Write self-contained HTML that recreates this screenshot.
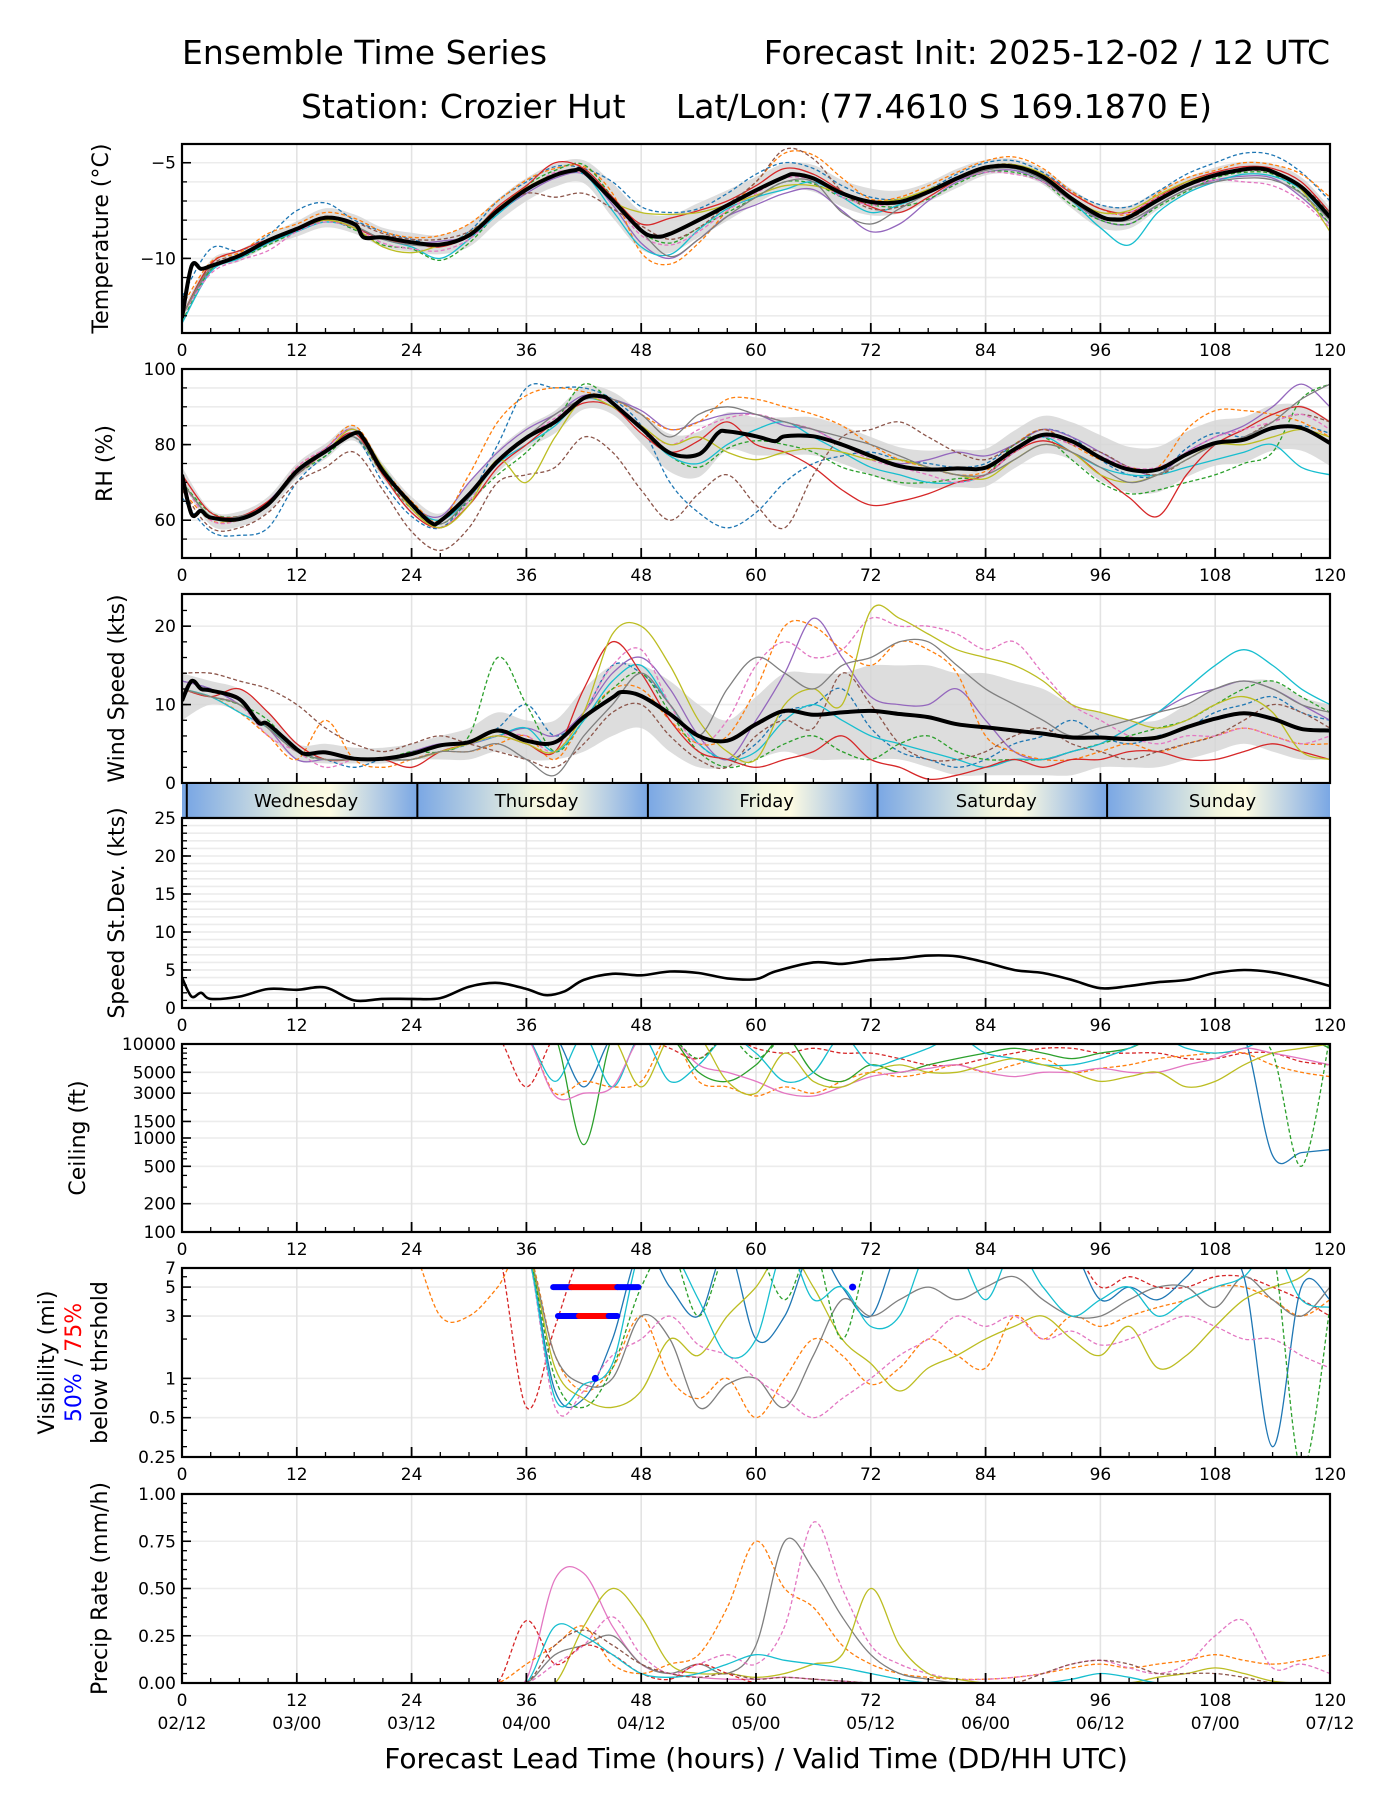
<!DOCTYPE html>
<html><head><meta charset="utf-8"><style>
html,body{margin:0;padding:0;background:#fff;}
svg{display:block;font-family:"DejaVu Sans","Liberation Sans",sans-serif;}
</style></head><body>
<svg id="chart" xmlns="http://www.w3.org/2000/svg" width="1400" height="1800" viewBox="0 0 1400 1800">
<defs>
<linearGradient id="dayGrad" x1="0" x2="1" y1="0" y2="0">
<stop offset="0" stop-color="#7aa7e4"/><stop offset="0.5" stop-color="#f3f6df"/><stop offset="0.62" stop-color="#fdfbe3"/><stop offset="1" stop-color="#7aa7e4"/>
</linearGradient>
</defs>
<text x="182" y="64" font-size="33">Ensemble Time Series</text>
<text x="1330" y="64" font-size="33" text-anchor="end">Forecast Init: 2025-12-02 / 12 UTC</text>
<text x="301" y="118" font-size="33">Station: Crozier Hut</text>
<text x="1212" y="118" font-size="33" text-anchor="end">Lat/Lon: (77.4610 S 169.1870 E)</text>
<text x="756" y="1768" font-size="28" text-anchor="middle">Forecast Lead Time (hours) / Valid Time (DD/HH UTC)</text>
</svg>
<script>
// ---------- data ----------
const memberHours = [0,3,6,9,12,15,18,21,24,27,30,33,36,39,42,45,48,51,54,57,60,63,66,69,72,75,78,81,84,87,90,93,96,99,102,105,108,111,114,117,120];
const memberColors = ['#1f77b4','#9467bd','#ff7f0e','#2ca02c','#17becf','#d62728','#8c564b','#e377c2','#bcbd22','#7f7f7f'];
const memberDashed = [true,false,true,true,false,false,true,true,false,false];

const tempMeanHours = [0,1,2,3,6,9,12,15,18,19,21,24,27,30,33,36,39,41,42,45,48,49.5,51,54,57,60,63,64,66,69,72,75,78,81,84,87,90,93,96,97.5,99,102,105,108,111,112.5,114,117,120];
const tempMean = [-13.1,-10.4,-10.55,-10.4,-9.86,-9.07,-8.46,-7.88,-8.2,-8.9,-8.9,-9.16,-9.28,-8.8,-7.5,-6.4,-5.65,-5.4,-5.47,-6.96,-8.54,-8.86,-8.72,-8.0,-7.23,-6.44,-5.74,-5.6,-5.82,-6.6,-7.05,-7.05,-6.53,-5.82,-5.25,-5.2,-5.74,-6.88,-7.8,-7.96,-7.84,-6.96,-6.18,-5.65,-5.35,-5.3,-5.47,-6.26,-7.84];
const tempSpread = [0.3,0.3,0.3,0.3,0.4,0.5,0.5,0.5,0.5,0.5,0.6,0.6,0.6,0.6,0.6,0.9,1.0,1.0,0.9,0.8,0.7,0.7,0.7,0.7,0.7,0.6,0.5,0.5,0.4,0.4,0.4,0.5,0.6,0.6,0.5,0.4,0.4,0.4,0.4,0.5,0.5];
const tempMembers = [
[-12,-9.5,-9.6,-8.8,-7.5,-7.1,-8.0,-8.6,-9.0,-9.3,-8.6,-7.0,-6.0,-5.2,-5.3,-6.0,-7.3,-7.6,-7.4,-6.6,-5.6,-5.0,-5.3,-6.2,-6.8,-6.9,-6.4,-5.6,-5.0,-4.9,-5.5,-6.5,-7.2,-7.3,-6.5,-5.6,-5.0,-4.5,-4.6,-5.5,-7.0],
[-13,-10.6,-10.0,-9.2,-8.6,-8.0,-8.4,-9.0,-9.2,-9.1,-8.8,-7.6,-6.6,-5.8,-5.6,-7.2,-9.2,-10.0,-9.0,-7.8,-7.2,-6.6,-6.4,-7.5,-8.6,-8.2,-7.0,-6.0,-5.5,-5.4,-6.0,-7.0,-8.0,-8.2,-7.2,-6.4,-5.9,-5.7,-5.8,-6.8,-8.2],
[-12.5,-10.2,-9.7,-8.7,-8.2,-7.6,-7.9,-8.6,-8.9,-8.8,-8.2,-7.0,-5.9,-5.3,-5.2,-6.6,-9.7,-10.3,-9.2,-7.5,-6.0,-4.5,-4.6,-5.8,-6.9,-6.8,-6.2,-5.5,-4.9,-4.7,-5.3,-6.5,-7.4,-7.7,-6.6,-5.8,-5.4,-5.0,-5.1,-5.6,-6.8],
[-13.3,-10.6,-10.0,-9.3,-8.6,-8.0,-8.5,-9.3,-9.5,-10.1,-9.2,-7.6,-6.2,-5.4,-5.1,-6.8,-8.6,-9.2,-8.4,-7.6,-6.8,-6.0,-6.1,-6.8,-7.2,-7.3,-6.9,-6.1,-5.5,-5.5,-6.0,-7.2,-8.0,-8.2,-7.3,-6.5,-5.8,-5.5,-5.6,-6.6,-8.2],
[-13.4,-10.7,-10.0,-9.2,-8.6,-8.1,-8.4,-9.0,-9.4,-10.0,-9.0,-7.7,-6.5,-5.7,-5.6,-7.5,-9.4,-9.8,-8.5,-7.4,-6.8,-6.4,-6.0,-6.8,-7.6,-7.2,-6.6,-5.9,-5.3,-5.3,-5.9,-7.0,-8.4,-9.3,-7.6,-6.6,-6.0,-5.6,-5.7,-6.4,-8.0],
[-13,-10.3,-9.6,-9.0,-8.5,-8.0,-8.4,-9.0,-9.2,-9.4,-8.8,-7.3,-6.2,-5.0,-5.3,-6.8,-8.2,-7.9,-7.5,-7.0,-6.2,-5.3,-5.6,-6.5,-7.3,-7.6,-6.8,-5.9,-5.3,-5.2,-5.6,-6.6,-7.4,-7.6,-6.8,-6.0,-5.5,-5.2,-5.3,-6.0,-7.6],
[-13,-10.4,-9.8,-9.0,-8.4,-7.8,-8.1,-8.7,-9.0,-9.0,-8.6,-7.5,-6.6,-6.8,-6.6,-7.4,-8.3,-9.0,-8.4,-7.2,-6.0,-4.3,-4.8,-6.5,-7.4,-7.3,-6.6,-5.8,-5.2,-5.1,-5.8,-6.8,-7.8,-7.9,-7.0,-6.2,-5.6,-5.4,-5.5,-6.2,-7.6],
[-13,-10.8,-10.1,-9.6,-8.6,-8.1,-8.4,-9.2,-9.5,-9.6,-9.0,-7.6,-6.5,-5.5,-5.6,-7.0,-8.8,-9.3,-8.6,-7.5,-6.6,-5.8,-5.9,-6.8,-7.2,-7.1,-6.6,-5.9,-5.5,-5.6,-6.0,-7.0,-7.6,-7.6,-6.8,-6.2,-5.9,-6.0,-6.2,-7.0,-8.4],
[-13,-10.5,-9.9,-9.1,-8.5,-8.0,-8.4,-9.4,-9.7,-9.3,-8.7,-7.4,-6.3,-5.6,-5.5,-7.0,-7.6,-7.7,-7.6,-7.2,-6.7,-6.2,-6.2,-6.6,-7.0,-6.9,-6.4,-5.8,-5.2,-5.1,-5.6,-6.8,-7.6,-7.5,-6.7,-6.0,-5.6,-5.3,-5.4,-6.4,-8.6],
[-13,-10.5,-9.9,-9.1,-8.5,-7.9,-8.3,-9.0,-9.3,-9.3,-8.8,-7.5,-6.4,-5.6,-5.4,-7.0,-8.6,-9.9,-9.0,-7.8,-6.8,-6.0,-6.0,-7.6,-8.2,-7.4,-6.6,-5.9,-5.4,-5.3,-5.9,-7.0,-7.9,-8.0,-7.2,-6.4,-6.0,-5.8,-5.9,-6.6,-8.0]
];

const rhMeanHours = [0,1,2,3,6,9,12,15,18,19,21,24,26,27,30,33,36,39,42,44,45,48,51,54,56,57,60,62,63,66,69,72,75,78,81,84,87,90,93,96,99,102,105,108,111,114,117,120];
const rhMean = [72,61.6,62.5,60.7,60.3,64.2,73,78.2,83,81.5,73,64.2,59.4,59.8,66.8,75.6,81.8,86,92.3,92.7,91,84.4,77.8,77.4,83,83.5,82.2,80.9,82.2,82.2,80,77,74.3,73.4,73.7,73.9,78.7,82.6,80.9,76.5,73.4,73.4,77.4,80.4,81.3,84.4,84.4,80.4];
const rhSpread = [2,2,2,2,2,2,2,2,2,2,3,3,3,3,3,3,4,5,6,5,5,5,5,5,5,5,5,5,5,5,5,5,6,6,6,6,6,6,6,6,6];
const rhMembers = [
[66,57,56,58,70,77,82,70,61,58,66,80,95,95,95,92,85,70,62,58,62,70,75,77,78,76,75,74,75,80,84,82,76,72,72,79,83,82,84,85,83],
[70,61,60,65,73,79,84,73,64,61,70,78,84,88,93,92,89,84,86,88,88,85,84,80,77,75,76,78,77,80,84,82,78,74,72,78,82,85,90,96,90],
[68,60,60,64,74,79,85,74,65,60,72,86,93,95,94,92,88,84,86,92,92,90,88,85,80,76,74,72,73,80,84,80,76,74,74,84,89,89,88,86,82],
[70,62,61,64,72,77,82,72,63,59,65,72,78,86,96,91,84,77,74,79,81,80,78,74,72,70,70,71,72,80,82,76,70,67,68,70,72,75,78,92,96],
[70,61,60,64,73,78,83,74,64,60,66,75,80,85,92,90,84,77,75,80,84,86,82,78,74,72,70,70,72,78,82,78,74,72,72,74,76,78,80,74,72],
[72,62,61,65,72,78,83,72,62,58,64,74,80,86,91,90,83,78,81,86,80,78,74,68,64,65,67,70,72,78,81,78,72,66,61,72,80,84,88,90,86],
[68,58,58,62,70,74,78,68,57,52,58,70,72,74,82,78,68,60,67,72,64,58,72,82,84,86,82,78,76,80,84,80,78,74,72,76,80,82,86,88,86],
[70,60,60,64,74,79,84,73,63,58,65,76,82,87,92,91,85,80,84,87,88,86,84,80,76,74,72,70,72,78,82,80,77,74,74,78,82,84,86,88,84],
[70,61,60,64,73,78,84,74,63,58,64,76,70,82,92,90,85,80,82,78,76,78,79,78,76,76,74,72,71,76,80,78,72,70,72,76,80,80,82,84,82],
[70,61,61,64,72,78,82,73,64,59,66,76,82,88,92,92,88,82,88,90,88,86,84,82,80,77,74,72,72,76,80,78,74,70,72,76,80,82,86,92,96]
];

const windMeanHours = [0,1,2,3,6,8,9,12,13,15,18,21,24,27,30,33,36,39,42,45,46,48,51,54,57,60,63,66,69,72,75,78,81,84,87,90,93,96,99,102,105,108,111,114,117,120];
const windMean = [10.5,13,12,11.8,10.7,7.7,7.5,4.3,3.7,3.9,3.1,3.1,3.7,4.8,5.2,6.7,5.4,5.2,8.4,10.9,11.6,11.1,8.8,6.0,5.4,7.5,9.2,8.7,9.0,9.2,8.8,8.4,7.5,7.1,6.7,6.3,5.8,5.8,5.6,5.8,7.1,8.2,8.9,8.2,6.9,6.7];
const windHi = [14,13,12,9,5,5,4.5,4.5,5,6,7,9,8,8,12,15,15,13,10,8,11,14,14,14,15,15,15,14,14,13,12,10,9,8,8,10,12,13,13,11,10];
const windLo = [8,10,9,6,3,2.5,2.5,2.5,3,3,3,4,3,3,4,6,7,4,2,2,3,4,3,3,3,3,2,1,1,1,1,1,2,2,2,3,4,5,4,3,3];
const windMembers = [
[13,12,10,7,4,3,2,3,3,4,5,7,10,6,9,15,14,10,5,3,5,9,10,12,7,4,3,2,3,5,6,8,6,5,6,7,9,10,11,9,8],
[13,12,10,7,3,3,3,3,4,5,5,6,7,6,9,14,16,12,6,3,8,14,21,16,11,10,10,12,8,4,3,4,5,7,9,11,12,13,12,10,8],
[12,11,9,6,3,8,3,2,3,4,4,5,6,3,8,12,12,8,5,6,12,20,20,17,15,18,17,14,6,4,3,3,4,5,4,5,6,7,6,5,5],
[12,11,10,8,4,3,3,3,4,4,6,16,10,4,8,12,14,9,4,2,3,5,6,4,3,5,6,4,3,3,3,4,5,6,7,8,10,12,13,11,9],
[12,11,9,7,4,3,3,3,3,4,5,6,7,4,8,13,15,10,5,3,4,8,10,8,6,5,4,3,2,3,3,4,5,7,9,12,15,17,15,12,10],
[12,11,12,9,5,3,3,3,2,4,5,6,5,4,12,18,14,8,4,3,2,3,4,6,3,2,0.5,1,2,3,2,3,3,4,4,3,3,4,5,4,3],
[14,14,13,12,10,7,5,4,5,6,5,4,3,2,5,9,10,6,3,2,6,8,7,14,10,5,3,3,4,6,7,5,4,3,4,5,6,8,10,9,7],
[12,11,10,6,4,2,3,3,3,4,5,6,6,4,9,15,17,10,5,8,15,18,16,17,21,20,20,19,17,18,14,10,8,6,5,6,6,7,6,5,6],
[12,11,10,7,4,3,3,3,3,4,5,6,5,4,9,19,20,15,8,4,3,10,12,10,22,21,19,17,16,15,13,10,9,8,7,8,10,11,9,4,3],
[12,11,10,7,4,3,3,3,3,4,4,5,3,1,6,10,14,10,6,12,16,14,12,15,16,18,18,15,12,10,8,6,7,8,9,10,12,13,12,10,9]
];

const sdHours = [0,1,2,3,6,9,12,15,18,21,24,27,30,33,36,38,40,42,45,48,51,54,57,60,62,66,69,72,75,78,81,84,87,90,93,96,99,102,105,108,111,114,117,120];
const sdValues = [4,1.5,2,1.2,1.5,2.5,2.4,2.7,1.0,1.2,1.2,1.3,2.8,3.3,2.5,1.7,2.2,3.7,4.5,4.3,4.8,4.6,3.9,3.8,4.8,6.0,5.8,6.3,6.5,6.9,6.8,6.0,5.0,4.6,3.7,2.6,2.9,3.4,3.7,4.6,5.0,4.7,3.9,2.9];

const ceilMembers = [
[12000,12000,12000,12000,12000,12000,12000,12000,12000,12000,12000,12000,3500,12000,12000,12000,12000,9000,7000,12000,9000,8000,9000,8000,8000,7000,6000,6000,7000,8000,9000,9000,8000,8000,8000,7000,7000,8000,8000,6500,6000],
[12000,12000,12000,12000,12000,12000,12000,12000,12000,12000,12000,12000,12000,12000,3500,12000,12000,12000,12000,12000,12000,12000,12000,12000,12000,12000,12000,12000,12000,12000,12000,12000,12000,12000,12000,12000,12000,12000,650,700,750],
[12000,12000,12000,12000,12000,12000,12000,12000,12000,12000,12000,12000,12000,3000,4000,3500,4000,12000,4000,3500,2800,3500,3000,4000,5000,4500,5000,6000,5000,6000,7000,5000,5500,6000,7000,7500,8000,8000,6000,5000,4500],
[12000,12000,12000,12000,12000,12000,12000,12000,12000,12000,12000,12000,12000,12000,850,12000,12000,12000,5000,4000,6000,12000,5000,4000,6000,5000,6000,7000,8000,9000,8000,7000,8000,9000,12000,12000,12000,12000,12000,12000,9000],
[12000,12000,12000,12000,12000,12000,12000,12000,12000,12000,12000,12000,12000,4000,12000,3500,12000,4000,6000,12000,8000,4000,5000,12000,6000,7000,9000,12000,8000,7000,6000,6000,7000,9000,12000,9000,8000,9000,12000,12000,12000],
[12000,12000,12000,12000,12000,12000,12000,12000,12000,12000,12000,12000,12000,2800,3000,3500,12000,12000,6000,5000,4000,3000,2800,3500,4500,5000,5500,6000,5000,4500,5000,5000,5500,5000,5000,6000,7000,9000,8000,7000,6000],
[12000,12000,12000,12000,12000,12000,12000,12000,12000,12000,12000,12000,12000,12000,12000,12000,3500,12000,12000,4000,3000,8000,4000,3500,5000,6000,5000,5000,6000,7000,6000,5000,4000,4500,5000,3500,4000,6000,8000,9000,10000],
[12000,12000,12000,12000,12000,12000,12000,12000,12000,12000,12000,12000,12000,12000,12000,12000,12000,12000,7000,12000,7000,12000,12000,12000,12000,12000,12000,12000,12000,12000,12000,12000,12000,12000,12000,12000,12000,12000,8000,500,12000]
];
const ceilColors = ['#d62728','#1f77b4','#ff7f0e','#2ca02c','#17becf','#e377c2','#bcbd22','#2ca02c'];
const ceilDashed = [true,false,true,false,false,false,false,true];

const visMembers = [
[10,10,10,10,10,10,10,10,10,3,3,5,10,1.5,0.8,1.2,3,1,0.7,1,0.5,1,2,1.5,0.9,1.2,2,1.5,1.2,3,2,3,2.5,3,3.5,4,5,5,4,3,4],
[10,10,10,10,10,10,10,10,10,10,10,10,0.6,2.5,10,10,10,10,10,10,10,10,10,10,10,10,10,10,10,10,10,10,5,6,5,5,6,6,5,4,3],
[10,10,10,10,10,10,10,10,10,10,10,10,10,0.8,0.7,2,10,5,3,10,2,3,10,5,3,10,10,10,10,10,10,10,4,5,4,6,10,6,0.3,5,4],
[10,10,10,10,10,10,10,10,10,10,10,10,10,1.5,0.9,1.0,3,2,0.6,0.9,1.0,0.6,1.5,4,3,4,5,4,5,6,4,3,3,4,5,5,3.5,6,4,3,5],
[10,10,10,10,10,10,10,10,10,10,10,10,10,1.2,0.7,0.6,0.8,2,1.5,3,5,10,5,2,1.3,0.8,1.2,1.5,2,2.5,3,2,1.5,2.5,1.2,1.5,2.5,4,5,6,10],
[10,10,10,10,10,10,10,10,10,10,10,10,10,0.6,0.8,1.5,2,3,1.8,1.5,1.0,0.7,0.5,0.7,1,1.5,2,3,2.5,3,2,2.3,1.8,2,2.5,3,2.5,2,2,1.5,1.2],
[10,10,10,10,10,10,10,10,10,10,10,10,10,1,0.6,1.2,5,10,3,10,10,4,10,2,10,10,10,10,10,10,10,10,10,10,10,10,10,10,10,0.2,3.5],
[10,10,10,10,10,10,10,10,10,10,10,10,10,0.7,0.9,1.3,10,10,4,1.5,2,10,4,5,2.5,3,10,10,4,10,5,3,4,5,3,4,5,6,10,4,3.5]
];
const visColors = ['#ff7f0e','#d62728','#1f77b4','#7f7f7f','#bcbd22','#e377c2','#2ca02c','#17becf'];
const visDashed = [true,true,false,false,false,true,true,false];
const visBarLevel = [5,5,5,3,3,3];
const visBarStart = [38.8,40.7,45.5,39.3,41.5,44.6];
const visBarEnd = [40.7,45.5,47.7,41.5,44.6,45.5];
const visBarColor = ['#0000ff','#ff0000','#0000ff','#0000ff','#ff0000','#0000ff'];
const visDotHour = [43.2,70.1];
const visDotLevel = [1,5];

const precipMembers = [
[0,0,0,0,0,0,0,0,0,0,0,0,0.02,0.55,0.58,0.3,0.1,0.05,0.03,0.02,0.02,0.03,0.02,0.01,0,0,0,0,0,0,0,0,0,0,0,0,0,0,0,0,0],
[0,0,0,0,0,0,0,0,0,0,0,0,0.1,0.2,0.3,0.1,0.05,0.1,0.15,0.4,0.75,0.5,0.4,0.2,0.1,0.05,0.03,0.02,0.02,0.03,0.05,0.08,0.1,0.08,0.1,0.12,0.15,0.12,0.1,0.12,0.15],
[0,0,0,0,0,0,0,0,0,0,0,0,0,0.15,0.2,0.25,0.1,0.05,0.1,0.05,0.2,0.75,0.6,0.35,0.15,0.05,0.02,0,0,0,0,0,0,0,0,0,0,0,0,0,0],
[0,0,0,0,0,0,0,0,0,0,0,0,0,0.1,0.2,0.35,0.15,0.05,0.1,0.15,0.1,0.3,0.85,0.5,0.2,0.1,0.05,0.02,0.02,0.03,0.05,0.1,0.12,0.08,0.05,0.1,0.25,0.33,0.08,0.1,0.05],
[0,0,0,0,0,0,0,0,0,0,0,0,0,0,0.3,0.5,0.35,0.1,0.05,0.05,0.03,0.05,0.1,0.15,0.5,0.2,0.05,0.02,0,0,0,0,0,0,0.03,0.05,0.08,0.05,0.01,0,0],
[0,0,0,0,0,0,0,0,0,0,0,0,0.33,0.1,0.2,0.15,0.05,0.02,0.1,0.05,0,0,0,0,0,0,0,0,0,0,0,0,0,0,0,0,0,0,0,0,0],
[0,0,0,0,0,0,0,0,0,0,0,0,0,0.3,0.25,0.15,0.05,0.03,0.05,0.1,0.15,0.12,0.1,0.08,0.05,0.02,0,0,0,0,0,0.02,0.05,0.03,0,0,0,0,0,0,0],
[0,0,0,0,0,0,0,0,0,0,0,0,0,0.2,0.28,0.2,0.1,0.05,0.03,0.05,0.02,0.03,0.02,0.01,0,0,0,0,0,0,0.05,0.1,0.12,0.1,0.05,0.05,0.05,0.03,0,0,0]
];
const precipColors = ['#e377c2','#ff7f0e','#7f7f7f','#e377c2','#bcbd22','#d62728','#17becf','#8c564b'];
const precipDashed = [false,true,false,true,false,true,false,true];

const dayNames = ['Wednesday','Thursday','Friday','Saturday','Sunday'];
const dayStarts = [0.5,24.6,48.7,72.7,96.7];
const xTickHours = [0,12,24,36,48,60,72,84,96,108,120];
const xDateLabels = ['02/12','03/00','03/12','04/00','04/12','05/00','05/12','06/00','06/12','07/00','07/12'];

// ---------- drawing ----------
const NS = 'http://www.w3.org/2000/svg';
const svg = document.getElementById('chart');
const X0 = 182, X1 = 1330;
function xs(h){ return X0 + h * (X1 - X0) / 120; }
function mk(tag, attrs, parent){
  const e = document.createElementNS(NS, tag);
  for (const k in attrs) e.setAttribute(k, attrs[k]);
  (parent || svg).appendChild(e);
  return e;
}
function smoothPath(pts){
  if (pts.length < 2) return '';
  let d = 'M' + pts[0][0].toFixed(1) + ',' + pts[0][1].toFixed(1);
  for (let i = 0; i < pts.length - 1; i++) {
    const p0 = pts[i-1] || pts[i], p1 = pts[i], p2 = pts[i+1], p3 = pts[i+2] || p2;
    const c1x = p1[0] + (p2[0]-p0[0])/6, c1y = p1[1] + (p2[1]-p0[1])/6;
    const c2x = p2[0] - (p3[0]-p1[0])/6, c2y = p2[1] - (p3[1]-p1[1])/6;
    d += 'C' + c1x.toFixed(1) + ',' + c1y.toFixed(1) + ' ' + c2x.toFixed(1) + ',' + c2y.toFixed(1) + ' ' + p2[0].toFixed(1) + ',' + p2[1].toFixed(1);
  }
  return d;
}

function makePanel(key, y0, y1, yScale, majors, majorLabels, gridVals, minorTicks, ylabelLines, labelX, showX){
  const g = mk('g', {});
  
  
  const clip = mk('clipPath', {id: 'clip-' + key}, g);
  mk('rect', {x: X0, y: y0, width: X1 - X0, height: y1 - y0}, clip);
  for (const v of gridVals) {
    const y = yScale(v);
    const gl = mk('line', {x1: X0, x2: X1, y1: y, y2: y, stroke: '#ececec', 'stroke-width': 1.6}, g);
    
    
  }
  for (const h of xTickHours) {
    const vl = mk('line', {x1: xs(h), x2: xs(h), y1: y0, y2: y1, stroke: '#e3e3e3', 'stroke-width': 1.6}, g);
    
    
  }
  const plot = mk('g', {'clip-path': 'url(#clip-' + key + ')'}, g);
  
  
  const axes = mk('g', {}, g);
  
  
  for (const v of minorTicks) {
    const y = yScale(v);
    mk('line', {x1: X0, x2: X0 + 5, y1: y, y2: y, stroke: '#000', 'stroke-width': 1.3}, axes);
  }
  majors.forEach((v, i) => {
    const y = yScale(v);
    mk('line', {x1: X0, x2: X0 + 9, y1: y, y2: y, stroke: '#000', 'stroke-width': 1.6}, axes);
    const t = mk('text', {x: X0 - 6, y: y + 6, 'font-size': 17, 'text-anchor': 'end'}, axes);
    t.textContent = majorLabels[i];
    
    
  });
  for (let h = 0; h <= 120; h += 3) {
    const big = h % 12 === 0;
    mk('line', {x1: xs(h), x2: xs(h), y1: y1, y2: y1 - (big ? 10 : 5), stroke: '#000', 'stroke-width': big ? 1.8 : 1.3}, axes);
  }
  if (showX) {
    for (const h of xTickHours) {
      const t = mk('text', {x: xs(h), y: y1 + 23, 'font-size': 17, 'text-anchor': 'middle'}, axes);
      t.textContent = String(h);
      
      
    }
  }
  mk('rect', {x: X0, y: y0, width: X1 - X0, height: y1 - y0, fill: 'none', stroke: '#000', 'stroke-width': 2.2}, axes);
  const cy = (y0 + y1) / 2;
  ylabelLines.forEach((ln, i) => {
    const lx = labelX[i];
    const t = mk('text', {x: lx, y: cy, 'font-size': 22, 'text-anchor': 'middle', transform: 'rotate(-90 ' + lx + ' ' + cy + ')'}, g);
    if (Array.isArray(ln)) {
      ln.forEach(seg => { const s = mk('tspan', {fill: seg[1]}, t); s.textContent = seg[0]; });
    } else t.textContent = ln;
    
    
  });
  return plot;
}

function drawMembers(plot, key, members, colors, dashed, yScale){
  members.forEach((vals, i) => {
    const pts = vals.map((v, j) => [xs(memberHours[j]), yScale(v)]);
    const p = mk('path', {d: smoothPath(pts), fill: 'none', stroke: colors[i % colors.length], 'stroke-width': 1.3, 'stroke-dasharray': dashed[i % dashed.length] ? '4,2.5' : 'none'}, plot);
    
    
  });
}
function drawBand(plot, key, lo, hi, yScale){
  const up = memberHours.map((h, j) => [xs(h), yScale(hi[j])]);
  const dn = memberHours.map((h, j) => [xs(h), yScale(lo[j])]).reverse();
  const d = smoothPath(up) + 'L' + smoothPath(dn).slice(1) + 'Z';
  const p = mk('path', {d: d, fill: '#d4d4d4', 'fill-opacity': 0.8, stroke: 'none'}, plot);
  
  
}
function drawMean(plot, key, hours, vals, yScale, w){
  const pts = vals.map((v, j) => [xs(hours[j]), yScale(v)]);
  const p = mk('path', {d: smoothPath(pts), fill: 'none', stroke: '#000', 'stroke-width': w, 'stroke-linejoin': 'round'}, plot);
  
  
}
function range(a, b, s){ const r = []; for (let v = a; v <= b + 1e-9; v += s) r.push(+v.toFixed(4)); return r; }

// Temperature
{
  const y0 = 144, y1 = 333, vmin = -13.9, vmax = -4.02;
  const ys = v => y1 - (v - vmin) / (vmax - vmin) * (y1 - y0);
  const plot = makePanel('temperature', y0, y1, ys, [-5, -10], ['\u22125', '\u221210'], range(-13, -5, 1), range(-13, -5, 1), ['Temperature (\u00b0C)'], [108], true);
  const lo = memberHours.map((h, j) => tempMean[tempMeanHours.indexOf(h)] - tempSpread[j]);
  const hi = memberHours.map((h, j) => tempMean[tempMeanHours.indexOf(h)] + tempSpread[j]);
  drawBand(plot, 'temperature', lo, hi, ys);
  drawMembers(plot, 'temperature', tempMembers, memberColors, memberDashed, ys);
  drawMean(plot, 'temperature', tempMeanHours, tempMean, ys, 4);
}
// RH
{
  const y0 = 369, y1 = 558, vmin = 50, vmax = 100;
  const ys = v => y1 - (v - vmin) / (vmax - vmin) * (y1 - y0);
  const plot = makePanel('rh', y0, y1, ys, [60, 80, 100], ['60', '80', '100'], range(55, 95, 5), range(55, 95, 5), ['RH (%)'], [112], true);
  const lo = memberHours.map((h, j) => rhMean[rhMeanHours.indexOf(h)] - rhSpread[j]);
  const hi = memberHours.map((h, j) => rhMean[rhMeanHours.indexOf(h)] + rhSpread[j]);
  drawBand(plot, 'rh', lo, hi, ys);
  drawMembers(plot, 'rh', rhMembers, memberColors, memberDashed, ys);
  drawMean(plot, 'rh', rhMeanHours, rhMean, ys, 4);
}
// Wind
{
  const y0 = 594, y1 = 783, vmin = 0, vmax = 24.1;
  const ys = v => y1 - (v - vmin) / (vmax - vmin) * (y1 - y0);
  const plot = makePanel('wind', y0, y1, ys, [0, 10, 20], ['0', '10', '20'], [10, 20], range(2, 22, 2), ['Wind Speed (kts)'], [124], false);
  drawBand(plot, 'wind', windLo, windHi, ys);
  drawMembers(plot, 'wind', windMembers, memberColors, memberDashed, ys);
  drawMean(plot, 'wind', windMeanHours, windMean, ys, 4);
}
// Day band
{
  const g = mk('g', {});
  
  
  mk('rect', {x: X0, y: 784, width: X1 - X0, height: 34, fill: '#7aa7e4'}, g);
  dayNames.forEach((nm, i) => {
    const a = xs(dayStarts[i]), b = i < dayNames.length - 1 ? xs(dayStarts[i + 1]) : xs(120.7);
    mk('rect', {x: a, y: 784, width: Math.min(b, X1) - a, height: 34, fill: 'url(#dayGrad)'}, g);
    const sep = mk('line', {x1: a, x2: a, y1: 784, y2: 818, stroke: '#000', 'stroke-width': 2}, g);
    
    
    const t = mk('text', {x: (a + Math.min(b, X1)) / 2 + 4, y: 807, 'font-size': 18, 'text-anchor': 'middle'}, g);
    t.textContent = nm;
    
    
  });
}
// Std dev
{
  const y0 = 818, y1 = 1008, vmin = 0, vmax = 25;
  const ys = v => y1 - (v - vmin) / (vmax - vmin) * (y1 - y0);
  const plot = makePanel('stdev', y0, y1, ys, [0, 5, 10, 15, 20, 25], ['0', '5', '10', '15', '20', '25'], range(1, 24, 1), range(1, 24, 1), ['Speed St.Dev. (kts)'], [124], true);
  drawMean(plot, 'stdev', sdHours, sdValues, ys, 2.6);
}
// Ceiling
{
  const y0 = 1044, y1 = 1232;
  const ys = v => y1 - (Math.log10(v) - 2) / 2 * (y1 - y0);
  const cticks = [10000, 5000, 3000, 1500, 1000, 500, 200, 100];
  const minor = [200, 300, 400, 500, 600, 700, 800, 900, 2000, 3000, 4000, 5000, 6000, 7000, 8000, 9000];
  const plot = makePanel('ceiling', y0, y1, ys, cticks, cticks.map(String), cticks, minor, ['Ceiling (ft)'], [85], true);
  drawMembers(plot, 'ceiling', ceilMembers, ceilColors, ceilDashed, ys);
}
// Visibility
{
  const y0 = 1268, y1 = 1457;
  const lmin = Math.log10(0.25), lmax = Math.log10(7);
  const ys = v => y1 - (Math.log10(v) - lmin) / (lmax - lmin) * (y1 - y0);
  const vt = [7, 5, 3, 1, 0.5, 0.25];
  const minor = [0.3, 0.4, 0.6, 0.7, 0.8, 0.9, 2, 4, 6];
  const plot = makePanel('visibility', y0, y1, ys, vt, vt.map(String), [5, 3, 1, 0.5], minor,
    ['Visibility (mi)', [['50%', '#0000ff'], [' / ', '#000'], ['75%', '#ff0000']], 'below thrshold'], [54, 81, 107], true);
  drawMembers(plot, 'visibility', visMembers, visColors, visDashed, ys);
  visBarLevel.forEach((lv, i) => {
    const l = mk('line', {x1: xs(visBarStart[i]), x2: xs(visBarEnd[i]), y1: ys(lv), y2: ys(lv), stroke: visBarColor[i], 'stroke-width': 6, 'stroke-linecap': 'round'}, plot);
    
    
  });
  visDotHour.forEach((h, i) => {
    const c = mk('circle', {cx: xs(h), cy: ys(visDotLevel[i]), r: 3.5, fill: '#0000ff'}, plot);
    
    
  });
}
// Precip
{
  const y0 = 1494, y1 = 1683, vmin = 0, vmax = 1;
  const ys = v => y1 - (v - vmin) / (vmax - vmin) * (y1 - y0);
  const pt = [0, 0.25, 0.5, 0.75, 1];
  const plot = makePanel('precip', y0, y1, ys, pt, pt.map(v => v.toFixed(2)), [0.25, 0.5, 0.75], [0.05,0.1,0.15,0.2,0.3,0.35,0.4,0.45,0.55,0.6,0.65,0.7,0.8,0.85,0.9,0.95], ['Precip Rate (mm/h)'], [107], true);
  drawMembers(plot, 'precip', precipMembers, precipColors, precipDashed, ys);
  xTickHours.forEach((h, i) => {
    const t = mk('text', {x: xs(h), y: 1729, 'font-size': 17, 'text-anchor': 'middle'});
    t.textContent = xDateLabels[i];
    
    
  });
}
</script>
</body></html>
